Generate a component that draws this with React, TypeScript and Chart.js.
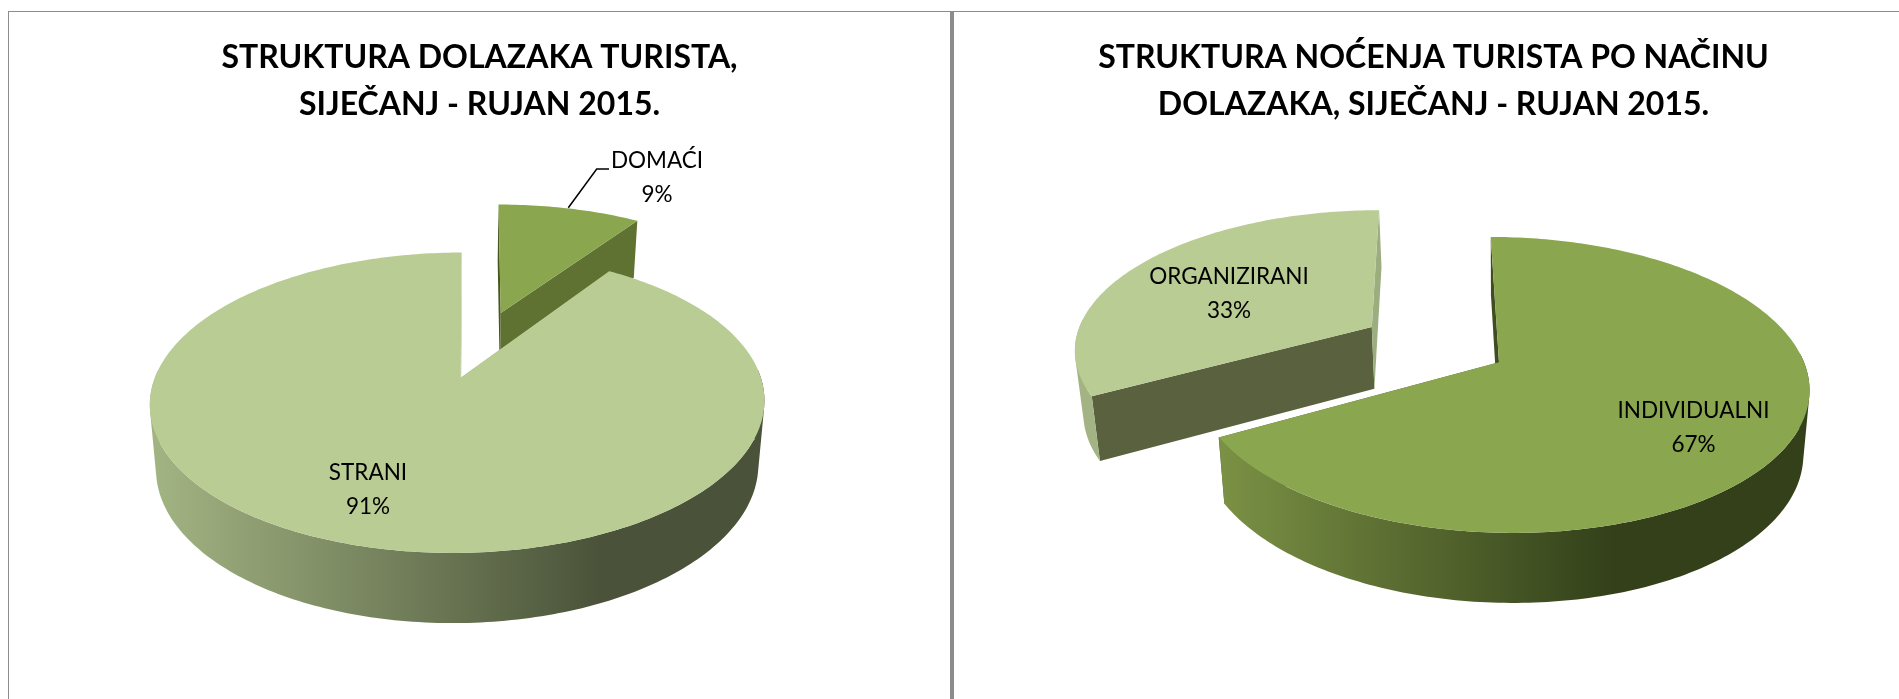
import React, { useEffect, useRef } from "react";
import { Chart, registerables } from "chart.js";

Chart.register(...registerables);

const leftTitle = ["STRUKTURA DOLAZAKA TURISTA,", "SIJEČANJ - RUJAN 2015."];
const leftCategories = ["DOMAĆI", "STRANI"];
const leftValues = [9.4, 90.6];
const leftExplode = [0.5, 0];
const leftTop = ["#8AA64E", "#B9CC93"];
const leftFaceStart = ["#47561F", "#A3B483"];
const leftFaceEnd = ["#5F7232", "#9CAD7F"];
const leftRim = [["#5F7232", "#5F7232"], ["#A2B382", "#4A5339"]];
const leftLabelAt = [[657, 161], [368, 473]];

const rightTitle = ["STRUKTURA NOĆENJA TURISTA PO NAČINU", "DOLAZAKA, SIJEČANJ - RUJAN 2015."];
const rightCategories = ["INDIVIDUALNI", "ORGANIZIRANI"];
const rightValues = [67, 33];
const rightExplode = [0, 0.5];
const rightTop = ["#8AA64E", "#B9CC93"];
const rightFaceStart = ["#3F4D1F", "#59613F"];
const rightFaceEnd = ["#59683A", "#9CAD7F"];
const rightRim = [["#7A9044", "#33401A"], ["#A3B384", "#A3B384"]];
const rightLabelAt = [[1693.5, 411], [1229, 277]];

const leftGeo = { left: 9, top: 12, w: 941, h: 687, cx: 457.9, cy: 377.7, R: 303, S: 146, p: 1 / 6, h2: 4.4, sx: 0.98, sy: 1.04, dy: 63.2, apexShift: 2.8, gradL: 158, gradR: 600, font: 32 };
const rightGeo = { left: 954, top: 12, w: 945, h: 687, cx: 1500.3, cy: 362.3, R: 303.7, S: 144.5, p: 0.153, h2: -11, sx: 0.98, sy: 1.04, dy: 63.2, apexShift: -1.3, gradL: 1224, gradR: 1613, font: 32 };

function pt(g: any, u: number, v: number, bottom: boolean) {
  const w = 1 + g.p * v;
  const sx = bottom ? g.sx : 1;
  const sy = bottom ? g.sy : 1;
  return {
    x: g.cx + (sx * (g.R * u + g.h2 * v)) / w,
    y: g.cy + (bottom ? g.dy : 0) - (sy * g.S * v) / w,
  };
}

function trace(ctx: CanvasRenderingContext2D, pts: { x: number; y: number }[]) {
  pts.forEach((q, i) => (i ? ctx.lineTo(q.x, q.y) : ctx.moveTo(q.x, q.y)));
  ctx.closePath();
}

function poly(ctx: CanvasRenderingContext2D, pts: { x: number; y: number }[], fill: any) {
  ctx.beginPath();
  trace(ctx, pts);
  ctx.fillStyle = fill;
  ctx.fill();
}

function area(q: { x: number; y: number }[]) {
  let a = 0;
  q.forEach((p, i) => {
    const n = q[(i + 1) % q.length];
    a += p.x * n.y - n.x * p.y;
  });
  return a;
}

function makePlugin(g: any, explode: number[], tops: string[], facesA: string[], facesB: string[], rims: string[][], labelAt: number[][], leader: number[][] | null) {
  return {
    id: "pie3d",
    beforeDatasetDraw(chart: any) {
      const ctx: CanvasRenderingContext2D = chart.ctx;
      const arcs = chart.getDatasetMeta(0).data;
      const slices = arcs.map((el: any, i: number) => {
        const mid = (el.startAngle + el.endAngle) / 2;
        return {
          i,
          a0: el.startAngle,
          a1: el.endAngle,
          ou: Math.cos(mid) * explode[i],
          ov: -Math.sin(mid) * explode[i],
        };
      });
      slices.sort((a: any, b: any) => b.ov - a.ov);
      ctx.save();
      ctx.translate(-g.left, -g.top);
      for (const s of slices) {
        const n = Math.max(2, Math.ceil(((s.a1 - s.a0) * 180) / Math.PI));
        const ang = Array.from({ length: n + 1 }, (_, k) => s.a0 + ((s.a1 - s.a0) * k) / n);
        const rim = (bottom: boolean) => ang.map((a) => pt(g, s.ou + Math.cos(a), s.ov - Math.sin(a), bottom));
        const apexT = pt(g, s.ou, s.ov, false);
        const apexB = pt(g, s.ou, s.ov, true);
        if (explode[s.i] === 0) {
          apexT.x += g.apexShift;
          apexB.x += g.apexShift;
        }
        const rT = rim(false);
        const rB = rim(true);
        poly(ctx, [apexT, rT[0], rB[0], apexB], facesA[s.i]);
        poly(ctx, [apexT, rT[n], rB[n], apexB], facesB[s.i]);
        const grad = ctx.createLinearGradient(g.gradL, 0, g.gradR, 0);
        grad.addColorStop(0, rims[s.i][0]);
        grad.addColorStop(1, rims[s.i][1]);
        ctx.beginPath();
        for (let k = 0; k < n; k++) {
          if (-Math.sin(ang[k]) > 0.05 && -Math.sin(ang[k + 1]) > 0.05) continue;
          const q = [rT[k], rT[k + 1], rB[k + 1], rB[k]];
          trace(ctx, area(q) < 0 ? q.slice().reverse() : q);
        }
        ctx.fillStyle = grad;
        ctx.fill("nonzero");
        poly(ctx, [apexT, ...rT], tops[s.i]);
      }
      ctx.restore();
      return false;
    },
    afterDatasetsDraw(chart: any) {
      const ctx: CanvasRenderingContext2D = chart.ctx;
      const data = chart.data.datasets[0].data as number[];
      const total = data.reduce((a, b) => a + b, 0);
      ctx.save();
      ctx.translate(-g.left, -g.top);
      if (leader) {
        ctx.beginPath();
        leader.forEach((q, i) => (i ? ctx.lineTo(q[0], q[1]) : ctx.moveTo(q[0], q[1])));
        ctx.strokeStyle = "#000";
        ctx.lineWidth = 1.5;
        ctx.stroke();
      }
      ctx.fillStyle = "#000";
      ctx.font = "22.5px Lato";
      ctx.textAlign = "center";
      ctx.textBaseline = "middle";
      chart.data.labels.forEach((name: string, i: number) => {
        ctx.fillText(name, labelAt[i][0], labelAt[i][1]);
        ctx.fillText(`${Math.round((data[i] / total) * 100)}%`, labelAt[i][0], labelAt[i][1] + 33.5);
      });
      ctx.restore();
    },
  };
}

function Panel({ g, title, cats, vals, explode, tops, facesA, facesB, rims, labelAt, leader, padLeft }: any) {
  const ref = useRef<HTMLCanvasElement>(null);
  useEffect(() => {
    const chart = new Chart(ref.current as HTMLCanvasElement, {
      type: "pie",
      data: { labels: cats, datasets: [{ data: vals, backgroundColor: tops, borderWidth: 0 }] },
      options: {
        responsive: false,
        animation: false,
        events: [],
        layout: { padding: { left: padLeft } },
        plugins: {
          legend: { display: false },
          tooltip: { enabled: false },
          title: {
            display: true,
            text: title,
            color: "#000",
            font: { family: "Lato", size: g.font, weight: "bold", lineHeight: 47 / g.font },
            padding: { top: 22, bottom: 0 },
          },
        },
      },
      plugins: [makePlugin(g, explode, tops, facesA, facesB, rims, labelAt, leader)],
    } as any);
    return () => chart.destroy();
  }, []);
  return (
    <canvas
      ref={ref}
      width={g.w}
      height={g.h}
      style={{ position: "absolute", left: g.left, top: g.top, width: g.w, height: g.h, display: "block" }}
    />
  );
}

const bar = (left: number, top: number, width: number, height: number) => (
  <div style={{ position: "absolute", left, top, width, height, background: "#8C8C8C" }} />
);

export default function App() {
  return (
    <div style={{ position: "absolute", left: 0, top: 0, width: 1899, height: 699, overflow: "hidden", background: "#fff" }}>
      {bar(8, 11, 1891, 1)}
      {bar(8, 11, 1, 688)}
      {bar(950, 11, 4, 688)}
      <Panel g={leftGeo} title={leftTitle} cats={leftCategories} vals={leftValues} explode={leftExplode} tops={leftTop} facesA={leftFaceStart} facesB={leftFaceEnd} rims={leftRim} labelAt={leftLabelAt} leader={[[568.3, 207.7], [596.7, 169], [609, 169]]} padLeft={0} />
      <Panel g={rightGeo} title={rightTitle} cats={rightCategories} vals={rightValues} explode={rightExplode} tops={rightTop} facesA={rightFaceStart} facesB={rightFaceEnd} rims={rightRim} labelAt={rightLabelAt} leader={null} padLeft={14} />
    </div>
  );
}
